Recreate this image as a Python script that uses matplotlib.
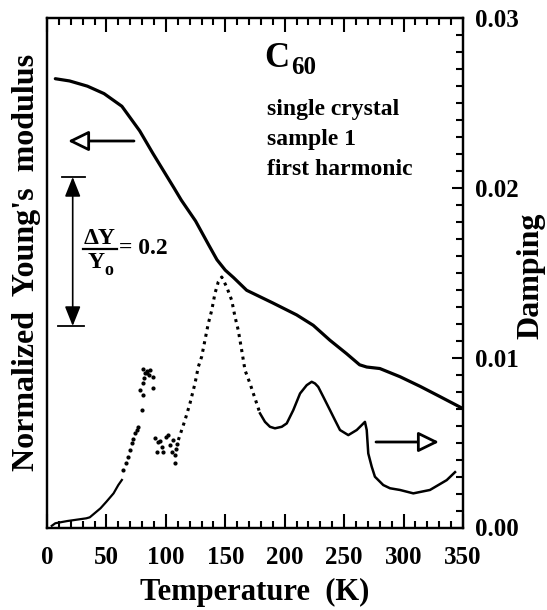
import matplotlib.pyplot as plt
from matplotlib.lines import Line2D
from matplotlib.ticker import MultipleLocator
import numpy as np

plt.rcParams['font.family'] = ['Liberation Serif', 'DejaVu Serif']
plt.rcParams['font.weight'] = 'bold'

# normalized Young's modulus (left axis)
young_T = [7, 19, 34, 48, 63, 78, 89, 107, 113, 125, 136, 143, 150, 157, 168,
           190, 210, 224, 238, 252, 263, 269, 280, 297, 314, 331, 349]
young_Y = [0.999, 0.996, 0.989, 0.979, 0.962, 0.929, 0.899, 0.852, 0.836, 0.808,
           0.776, 0.756, 0.742, 0.732, 0.715, 0.698, 0.682, 0.668, 0.648, 0.630,
           0.615, 0.612, 0.610, 0.599, 0.586, 0.572, 0.557]

# damping (right axis), low-temperature part
damp_low_T = [4, 7, 17, 33, 36, 45, 50, 56, 60, 63]
damp_low_D = [0.0001, 0.00025, 0.00038, 0.00054, 0.0006, 0.00113, 0.00152,
              0.00201, 0.0025, 0.0028]

# scattered points 64-110 K
damp_dots_T = [64.2, 66.3, 68.4, 70.0, 71.3, 72.6, 74.0, 75.5, 76.8, 79.7, 78.2,
               81.0, 82.4, 81.0, 83.9, 86.7, 89.4, 89.4, 84.5, 82.0, 85.5, 80.5,
               90.9, 93.6, 96.5, 92.3, 97.8, 102.0, 103.5, 106.3, 107.7, 104.9,
               107.7, 95.0, 100.5, 108.8, 109.5]
damp_dots_D = [0.00338, 0.00378, 0.00416, 0.00455, 0.00495, 0.0052, 0.00554,
               0.00574, 0.00593, 0.00691, 0.00809, 0.00848, 0.00907, 0.00936,
               0.00907, 0.00926, 0.00887, 0.00819, 0.0092, 0.0088, 0.0090, 0.0078,
               0.00526, 0.00505, 0.00475, 0.00446, 0.00446, 0.00544, 0.00485,
               0.00515, 0.00426, 0.00446, 0.00378, 0.0051, 0.0053, 0.0046, 0.0049]

# dotted rise and fall of the main peak
damp_peak_T = [110.5, 116.1, 120.3, 124.5, 127.3, 130.1, 132.9, 135.7, 138.6,
               141.3, 144.1, 147.0, 151.2, 155.4, 158.2, 160.9, 163.8, 166.6,
               170.8, 173.6, 176.4, 179.2]
damp_peak_D = [0.00515, 0.00632, 0.00731, 0.00848, 0.00946, 0.01005, 0.01103,
               0.01201, 0.01279, 0.01378, 0.01446, 0.01475, 0.01416, 0.01338,
               0.0124, 0.01162, 0.01044, 0.00926, 0.00848, 0.00789, 0.00731,
               0.00672]

# high-temperature part
damp_high_T = [179.2, 183.4, 187.6, 191.8, 197.5, 201.7, 207.2, 212.9, 218.5,
               222.7, 225.5, 228.2, 232.5, 238.1, 242.3, 246.5, 253.5, 260.6,
               264.8, 267.5, 269.0, 270.3, 273.2, 275.9, 282.9, 288.6, 297.0,
               308.2, 322.2, 336.3, 343.3]
damp_high_D = [0.00672, 0.00622, 0.00593, 0.00584, 0.00593, 0.00613, 0.00691,
               0.00789, 0.00838, 0.00858, 0.00848, 0.00828, 0.00769, 0.00691,
               0.00632, 0.00574, 0.00544, 0.00574, 0.00603, 0.00622, 0.00574,
               0.00436, 0.00358, 0.00299, 0.0025, 0.00231, 0.00221, 0.00201,
               0.00221, 0.00279, 0.00326]

x_ticks = [0, 50, 100, 150, 200, 250, 300, 350]
d_ticks = [0.00, 0.01, 0.02, 0.03]
d_tick_labels = ['0.00', '0.01', '0.02', '0.03']

W, H = 547, 610


def px(x, y):
    # reference pixel -> figure fraction
    return (x / W, 1 - y / H)


fig = plt.figure(figsize=(W / 100, H / 100), dpi=100)
ax = fig.add_axes([47 / W, 1 - 527.5 / H, (463 - 47) / W, (527.5 - 18) / H])
ax2 = ax.twinx()

ax.plot(young_T, young_Y, color='black', lw=2.3, solid_capstyle='round')
ax.set_xlim(0, 350)
ax.set_ylim(0.3966, 1.0805)

ax2.plot(damp_low_T, damp_low_D, color='black', lw=1.6)
ax2.plot(damp_dots_T, damp_dots_D, ls='none', marker='o', ms=2.0, color='black')
ax2.plot(damp_peak_T, damp_peak_D, color='black', lw=2.2, ls=(0, (1, 1.5)))
ax2.plot(damp_high_T, damp_high_D, color='black', lw=1.8)
ax2.set_ylim(0, 0.03)

for a in (ax, ax2):
    for s in a.spines.values():
        s.set_linewidth(1.6)

ax.set_xticks(x_ticks)
ax.xaxis.set_minor_locator(MultipleLocator(10))
ax.tick_params(axis='x', which='both', direction='in', top=True, width=1.5,
               labelsize=18, pad=13)
ax.tick_params(axis='x', which='major', length=10)
ax.tick_params(axis='x', which='minor', length=5)
ax.tick_params(axis='y', left=False, labelleft=False, which='both')
ax.set_yticks([])

ax2.set_yticks(d_ticks)
ax2.set_yticklabels(d_tick_labels)
ax2.yaxis.set_minor_locator(MultipleLocator(0.001))
ax2.tick_params(axis='y', which='both', direction='in', width=1.5,
                labelsize=18, pad=9)
ax2.tick_params(axis='y', which='major', length=8)
ax2.tick_params(axis='y', which='minor', length=5)

for lab in ax.get_xticklabels() + ax2.get_yticklabels():
    lab.set_fontweight('bold')

fig.text(*px(255, 600), 'Temperature  (K)', fontsize=22, fontweight='bold',
         ha='center', va='baseline')
fig.text(*px(27, 262), "Normalized  Young's  modulus", fontsize=23,
         fontweight='bold', rotation=90, ha='center', va='center')
fig.text(*px(531, 276), 'Damping', fontsize=23, fontweight='bold',
         rotation=90, ha='center', va='center')

# labels in the plot
fig.text(*px(264, 67), 'C', fontsize=25, fontweight='bold', va='baseline')
fig.text(*px(291, 74), '60', fontsize=18, fontweight='bold', va='baseline')
for i, line in enumerate(['single crystal', 'sample 1', 'first harmonic']):
    fig.text(*px(267, 115 + 30 * i), line, fontsize=17, fontweight='bold',
             va='baseline')

# arrows pointing to the axes
arrow_style = '-|>,head_length=0.45,head_width=0.22'
ax.annotate('', xy=px(68, 141), xytext=px(134, 141), xycoords='figure fraction',
            textcoords='figure fraction',
            arrowprops=dict(arrowstyle=arrow_style, mutation_scale=28, lw=2,
                            fc='white', ec='black', shrinkA=0, shrinkB=0))
ax.annotate('', xy=px(439, 442), xytext=px(376, 442), xycoords='figure fraction',
            textcoords='figure fraction',
            arrowprops=dict(arrowstyle=arrow_style, mutation_scale=28, lw=2,
                            fc='white', ec='black', shrinkA=0, shrinkB=0))

# delta Y scale bar
ax.annotate('', xy=px(72.7, 177), xytext=px(72.7, 326), xycoords='figure fraction',
            textcoords='figure fraction',
            arrowprops=dict(arrowstyle='<|-|>,head_length=0.5,head_width=0.2',
                            mutation_scale=24, lw=1.2, fc='black', ec='black',
                            shrinkA=0, shrinkB=0))
for (x0, x1, y) in [(62, 85, 177), (58, 84, 326)]:
    (fx0, fy), (fx1, _) = px(x0, y), px(x1, y)
    fig.add_artist(Line2D([fx0, fx1], [fy, fy], color='black', lw=1.3))

fig.text(*px(100, 244), 'ΔY', fontsize=17, fontweight='bold',
         ha='center', va='baseline')
(fa, fy), (fb, _) = px(83, 249), px(117, 249)
fig.add_artist(Line2D([fa, fb], [fy, fy], color='black', lw=1.6))
fig.text(*px(96, 268), 'Y', fontsize=17, fontweight='bold', ha='center',
         va='baseline')
fig.text(*px(104.5, 275), 'o', fontsize=13, fontweight='bold', ha='left',
         va='baseline')
fig.text(*px(119, 254), '= 0.2', fontsize=17, fontweight='bold', ha='left',
         va='baseline')

fig.savefig('out.png', dpi=100)
